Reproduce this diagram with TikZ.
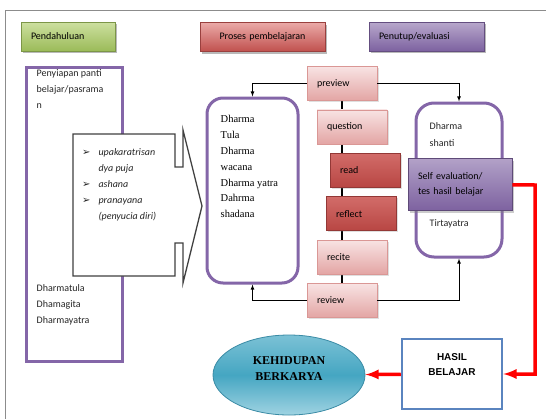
\documentclass[tikz,border=0pt]{standalone}
\usepackage{fontspec}
\setmainfont{Carlito}
\newfontfamily\serifface{Liberation Serif}
\newfontfamily\arialface{Liberation Sans}
\newfontfamily\symface{DejaVu Sans}
\usetikzlibrary{positioning}
\usetikzlibrary{calc}
\usetikzlibrary{arrows}
\usetikzlibrary{shapes.geometric}
\usetikzlibrary{shadows}
\usetikzlibrary{backgrounds}

\definecolor{greenhead}{HTML}{9BBB59}
\definecolor{greenlight}{HTML}{CDE0A0}
\definecolor{redhead}{HTML}{C0504D}
\definecolor{redlight}{HTML}{EBAAA8}
\definecolor{purplehead}{HTML}{7D62A0}
\definecolor{purplelight}{HTML}{B8A8CC}
\definecolor{purpleline}{HTML}{8466A8}
\definecolor{pinklight}{HTML}{F8E3E3}
\definecolor{pinkdark}{HTML}{E3A5A4}
\definecolor{pinkline}{HTML}{DA9795}
\definecolor{reddeep}{HTML}{B84643}
\definecolor{redmid}{HTML}{D26C69}
\definecolor{blueline}{HTML}{5A84BF}
\definecolor{tealmid}{HTML}{45A6C2}
\definecolor{teallight}{HTML}{9FD3E2}
\definecolor{tealline}{HTML}{3A8BA5}

\tikzset{
  box/.style            = { rectangle, inner sep=0pt },
  border/.style         = { draw, line width=.8pt },
  round/.style          = { rounded corners=16pt },
  shadowed/.style       = { drop shadow={shadow xshift=2pt, shadow yshift=-2pt, opacity=.55} },
  body/.style           = { inner sep=0pt, align=left, text=black!85,
                            font=\fontsize{10}{16}\selectfont },
}
\tikzset{
  header/.style         = { box, border, shadowed, minimum height=29pt, inner xsep=10pt,
                            align=left, font=\fontsize{10}{12}\selectfont },
  greenhead/.style      = { draw=greenhead!80!black, top color=greenlight, bottom color=greenhead },
  redhead/.style        = { draw=redhead!80!black, top color=redlight, bottom color=redhead },
  purplehead/.style     = { draw=purplehead!80!black, top color=purplelight, bottom color=purplehead },
  frame/.style          = { draw=black!45, line width=1.2pt },
  panel/.style          = { box, draw=purpleline, line width=3pt, fill=white },
  roundpanel/.style     = { panel, round },
  stage/.style          = { box, border, minimum width=70pt, minimum height=34pt, inner xsep=10pt,
                            text width=50pt, align=left, font=\fontsize{10}{12}\selectfont,
                            drop shadow={shadow xshift=1.5pt, shadow yshift=-1.5pt, opacity=.25} },
  softstage/.style      = { stage, draw=pinkline, top color=pinklight, bottom color=pinkdark },
  hardstage/.style      = { stage, draw=reddeep!80!black, top color=redmid, bottom color=reddeep },
  callout/.style        = { draw=black!75, line width=1.3pt, fill=white, line join=miter },
  chain/.style          = { draw=black, line width=2pt },
  link/.style           = { draw=black, line width=.8pt, ->, >=latex },
  redlink/.style        = { draw=red, line width=3.5pt, ->, >=latex },
}

\begin{document}
\begin{tikzpicture}[x=1pt, y=-1pt]
  \useasboundingbox (0,0) rectangle (546,418);
  \draw [frame] (5.5,430) |- (560,10.5);

  % phase headers
  \node (intro)   [header, greenhead,  text width=74pt]  at (68,36.5)    {Pendahuluan};
  \node (process) [header, redhead,    text width=105pt, align=center] at (262.5,37) {Proses pembelajaran};
  \node (closing) [header, purplehead, text width=95pt]  at (426.5,36.5) {Penutup/evaluasi};

  % opening
  \node (prep)      [panel, minimum width=96pt, minimum height=294pt] at (74,214) {};
  \node (preptext)  [body, below right=3.5pt and 12pt of prep.north west] {Penyiapan panti\\belajar/pasrama\\n};
  \node (arts)      [body, below right=218.5pt and 12pt of prep.north west] {Dharmatula\\Dhamagita\\Dharmayatra};

  \draw [callout] (73,134) -- (175,134) -- (175,167) -- (183,167) -- (183,130) -- (202,206)
    -- (183,283) -- (183,243) -- (175,243) -- (175,276) -- (73,276) -- cycle;
  \node (rites) [body, anchor=north west, font=\fontsize{10}{16}\selectfont\itshape] at (82,144) {%
    \begin{tabular}{@{}l@{\hspace{8pt}}l@{}}
      {\symface\upshape\fontsize{10}{16}\selectfont ➢} & upakaratrisan\\
       & dya puja\\
      {\symface\upshape\fontsize{10}{16}\selectfont ➢} & ashana\\
      {\symface\upshape\fontsize{10}{16}\selectfont ➢} & pranayana\\
       & (penyucia diri)
    \end{tabular}};

  % learning
  \node (dharma)     [roundpanel, minimum width=91pt, minimum height=185pt] at (252.5,190.5) {};
  \node (dharmatext) [body, below right=19pt and 15pt of dharma.north west, text=black,
                      font=\serifface\fontsize{10.5}{15.8}\selectfont]
    {Dharma\\Tula\\Dharma\\wacana\\Dharma yatra\\Dahrma\\shadana};

  \node (preview)  [softstage] at (342,83.5) {preview};
  \node (question) [softstage, below=8.6pt of preview, xshift=10pt]  {question};
  \node (read)     [hardstage, below=8.6pt of question, xshift=13pt] {read};
  \node (reflect)  [hardstage, below=8.6pt of read, xshift=-4pt]     {reflect};
  \node (recite)   [softstage, below=8.6pt of reflect, xshift=-9pt]  {recite};
  \node (review)   [softstage, below=8.6pt of recite, xshift=-10pt]  {review};

  \begin{pgfonlayer}{background}
    \draw [chain] (preview) -- (review);
  \end{pgfonlayer}

  % closing
  \node (closebox) [roundpanel, rounded corners=18pt, minimum width=86pt, minimum height=154pt] at (459,180) {};
  \node (peace)    [body, below right=21pt and 15pt of closebox.north west, font=\fontsize{10}{17}\selectfont] {Dharma\\shanti};
  \node (pilgrim)  [body, below right=118pt and 15pt of closebox.north west] {Tirtayatra};
  \node (selfeval) [box, border, draw=purplehead!75!black, top color=purplelight!90!purplehead, bottom color=purplehead,
                    drop shadow={shadow xshift=2pt, shadow yshift=-2pt, opacity=.4},
                    minimum width=104pt, minimum height=52pt, inner xsep=10pt, text width=84pt, align=left,
                    font=\fontsize{10}{15}\selectfont] at (460,184.5) {Self evaluation/\\tes hasil belajar};

  % outcome
  \node (result) [box, draw=blueline, line width=2.5pt, fill=white, minimum width=100pt, minimum height=70pt,
                  align=center, font=\arialface\bfseries\fontsize{10}{15}\selectfont] at (452,374)
    {HASIL\\BELAJAR\rule[-19pt]{0pt}{19pt}};
  \node (life)   [ellipse, draw=tealline, line width=.8pt, top color=teallight!60!tealmid, bottom color=teallight,
                  middle color=tealmid, minimum width=152pt, minimum height=80pt, inner sep=0pt,
                  align=center, font=\serifface\bfseries\fontsize{12}{16}\selectfont] at (289,375)
    {KEHIDUPAN\\BERKARYA\rule[-12pt]{0pt}{12pt}};

  \coordinate (bend) at (535,185);

  \draw [link]    (preview) -| (dharma);
  \draw [link]    (review)  -| (dharma);
  \draw [link]    (preview) -| (closebox);
  \draw [link]    (review)  -| (closebox);
  \draw [redlink] (selfeval) -- (bend) |- (result);
  \draw [redlink] (result)  -- (life);
\end{tikzpicture}
\end{document}
